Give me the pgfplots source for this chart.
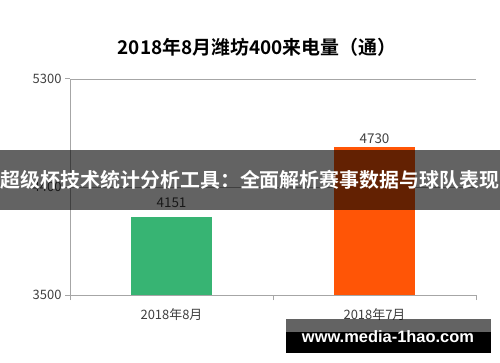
\documentclass[border=0pt]{standalone}
\usepackage{pgfplots}
\pgfplotsset{compat=1.18}
\usepackage{fontspec}
\setmainfont{Liberation Sans}
\newfontfamily\cjk{Noto Sans CJK SC}
\newfontfamily\cjkb{Noto Sans CJK SC Bold}
\definecolor{barg}{HTML}{37B473}
\definecolor{baro}{HTML}{FF5506}
\definecolor{axg}{HTML}{A6A6A6}
\definecolor{txt}{HTML}{404040}
\begin{document}
\begin{tikzpicture}[x=1bp,y=1bp]
\useasboundingbox (0,0) rectangle (500,362);
\fill[white] (0,0) rectangle (500,362);
\begin{axis}[
  at={(70bp,67bp)}, anchor=south west,
  scale only axis, width=406bp, height=216bp,
  xmin=-0.5, xmax=1.5, ymin=3500, ymax=5300,
  xtick={-0.5,0.5,1.5}, xticklabels={},
  extra x ticks={0,1}, extra x tick labels={\cjk 2018年8月,\cjk 2018年7月},
  extra x tick style={major tick length=0pt, tick label style={yshift=-10bp}},
  ytick={3500,4400,5300},
  ymajorgrids, grid style={axg, line width=0.8bp},
  axis x line*=bottom, axis y line*=left,
  axis line style={axg, line width=1bp},
  tick style={axg, line width=1bp},
  major tick length=5bp,
  xtick align=outside, ytick align=outside,
  tick label style={font=\fontsize{13}{14}\cjk, text=txt},
  /pgf/number format/assume math mode=true,
  /pgf/number format/1000 sep={},
  ybar, bar width=81bp,
  nodes near coords,
  nodes near coords style={font=\fontsize{13.5}{15}\cjk, text=txt},
  clip=false,
]
\addplot[fill=barg, draw=none, bar shift=0pt, nodes near coords style={yshift=6bp}] coordinates {(0,4151)};
\addplot[fill=baro, draw=none, bar shift=0pt] coordinates {(1,4730)};
\end{axis}
\node[font=\fontsize{19}{21}\cjkb, text=black] at (257,315) {2018年8月潍坊400来电量（通）};
\fill[black, opacity=0.61] (0,152) rectangle (500,212);
\node[font=\fontsize{20}{22}\cjkb, text=white, inner sep=0pt] at (250,182) {超级杯技术统计分析工具：全面解析赛事数据与球队表现};
\fill[black, opacity=0.61] (286,30) rectangle (491,43);
\fill[black] (286,9) rectangle (491,30);
\node[font=\fontsize{16.5}{18}\bfseries, text=white] at (388,25.5) {www.media-1hao.com};
\end{tikzpicture}
\end{document}
